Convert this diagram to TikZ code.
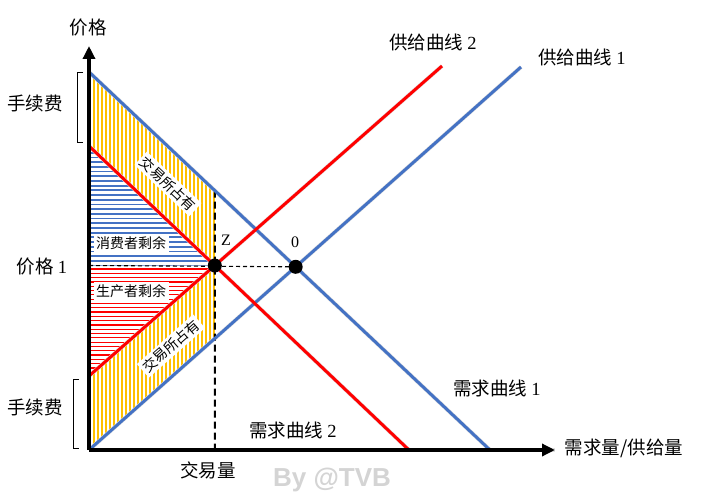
\documentclass[tikz,border=0pt]{standalone}
\usepackage{fontspec}
\setmainfont{Liberation Serif}
\newfontfamily\cjk{Noto Sans CJK SC}
\newfontfamily\wmfont{Liberation Sans}
\usetikzlibrary{arrows.meta,calc}
\definecolor{oblue}{RGB}{68,114,196}
\definecolor{ogold}{RGB}{255,192,0}
\definecolor{wmgray}{RGB}{212,212,212}
\begin{document}
\begin{tikzpicture}[x=1pt,y=-1pt,
  axisline/.style={line width=4pt,-{Triangle[length=13pt,width=12pt]}},
  curve/.style={line width=3pt},
  shadowline/.style={line width=4pt,draw=black!13},
  biglabel/.style={font=\fontsize{18.5}{20}\selectfont\cjk,inner sep=0pt},
  smalllabel/.style={font=\fontsize{14}{16}\selectfont\cjk,fill=white,inner sep=2.5pt},
  bracketline/.style={line width=1pt},
  dot/.style={circle,fill=black,inner sep=0pt,minimum size=14pt}]
\useasboundingbox (0,0) rectangle (706,500);
\fill[white] (0,0) rectangle (706,500);
% key coordinates
\coordinate (O0) at (89,450);
\coordinate (Ytop) at (89,46);
\coordinate (Xend) at (555,450);
\coordinate (D1a) at (89,72);  \coordinate (D1b) at (490,450);
\coordinate (D2a) at (89,146); \coordinate (D2b) at (409,450);
\coordinate (S1a) at (89,450); \coordinate (S1b) at (521,67);
\coordinate (S2a) at (89,376); \coordinate (S2b) at (442,66);
\coordinate (Z) at (intersection of D2a--D2b and S2a--S2b);
\coordinate (O) at (intersection of D1a--D1b and S1a--S1b);
\coordinate (Zt) at ($(Z)+(0,-150)$);
\coordinate (Zb) at (Z |- O0);
\coordinate (Zup) at (intersection of Z--Zt and D1a--D1b);
\coordinate (Zdn) at (intersection of Z--Zb and S1a--S1b);
\coordinate (P1) at (O0 |- Z);
% yellow stripes, upper
\begin{scope}
\clip (D1a) -- (D2a) -- (Z) -- (Zup) -- cycle;
\foreach \x in {90,94,...,222} \draw[ogold,line width=2.4pt] (\x,60) -- (\x,280);
\end{scope}
% yellow stripes, lower
\begin{scope}
\clip (S2a) -- (Z) -- (Zdn) -- (O0) -- cycle;
\foreach \x in {90,94,...,222} \draw[ogold,line width=2.4pt] (\x,255) -- (\x,455);
\end{scope}
% blue stripes
\begin{scope}
\clip (D2a) -- (Z) -- (P1) -- cycle;
\foreach \y in {148,152.7,...,268} \draw[oblue,line width=1.8pt] (85,\y) -- (225,\y);
\end{scope}
% red stripes
\begin{scope}
\clip (P1) -- (Z) -- (S2a) -- cycle;
\foreach \y in {269,273.3,...,380} \draw[red,line width=1.2pt] (85,\y) -- (225,\y);
\end{scope}
% shadows
\begin{scope}[shift={(2,3)}]
\draw[shadowline] (D1a) -- (D1b);
\draw[shadowline] (D2a) -- (D2b);
\draw[shadowline] (S1a) -- (S1b);
\draw[shadowline] (S2a) -- (S2b);
\draw[shadowline] (O0) -- (Xend);
\end{scope}
% dashed guides
\draw[line width=2pt,dash pattern=on 7pt off 4pt] (Zup) -- (Zb);
\draw[line width=1.1pt,dash pattern=on 4pt off 3pt] (P1) -- (O);
% curves
\draw[curve,oblue] (D1a) -- (D1b);
\draw[curve,oblue] (S1a) -- (S1b);
\draw[curve,red] (D2a) -- (D2b);
\draw[curve,red] (S2a) -- (S2b);
% axes
\draw[axisline] (O0) -- (Ytop);
\draw[axisline] (O0) -- (Xend);
% dots
\node[dot] (zdot) at (Z) {};
\node[dot] (odot) at (O) {};
% brackets
\draw[bracketline] (83,73) -- (77,73) -- (77,142) -- (83,142);
\draw[bracketline] (79,379) -- (73,379) -- (73,448) -- (79,448);
% labels
\node[biglabel] (lprice) at (88,28) {价格};
\node[biglabel] (lfee1) at (35,103) {手续费};
\node[biglabel] (lfee2) at (35,407) {手续费};
\node[biglabel] (lp1) at (42,267) {价格 {\rmfamily 1}};
\node[biglabel] (lqty) at (208,470) {交易量};
\node[biglabel] (ld2) at (293,430) {需求曲线 {\rmfamily 2}};
\node[biglabel] (ld1) at (497,388) {需求曲线 {\rmfamily 1}};
\node[biglabel] (lxq) at (624,448) {需求量/供给量};
\node[biglabel] (ls2) at (433,42) {供给曲线 {\rmfamily 2}};
\node[biglabel] (ls1) at (582,57) {供给曲线 {\rmfamily 1}};
\node[font=\fontsize{16}{18}\selectfont,inner sep=0pt] (lz) at (226,240) {Z};
\node[font=\fontsize{16}{18}\selectfont,inner sep=0pt] (lo) at (295,242) {0};
\node[smalllabel] (lcs) at (131,243) {消费者剩余};
\node[smalllabel] (lps) at (131,291) {生产者剩余};
\node[smalllabel,rotate=-43.3] (lex1) at (168,184) {交易所占有};
\node[smalllabel,rotate=41.5] (lex2) at (171,346) {交易所占有};
\node[font=\fontsize{26}{28}\selectfont\wmfont\bfseries,text=wmgray,inner sep=0pt] (wm) at (332,480) {By @TVB};
\end{tikzpicture}
\end{document}
